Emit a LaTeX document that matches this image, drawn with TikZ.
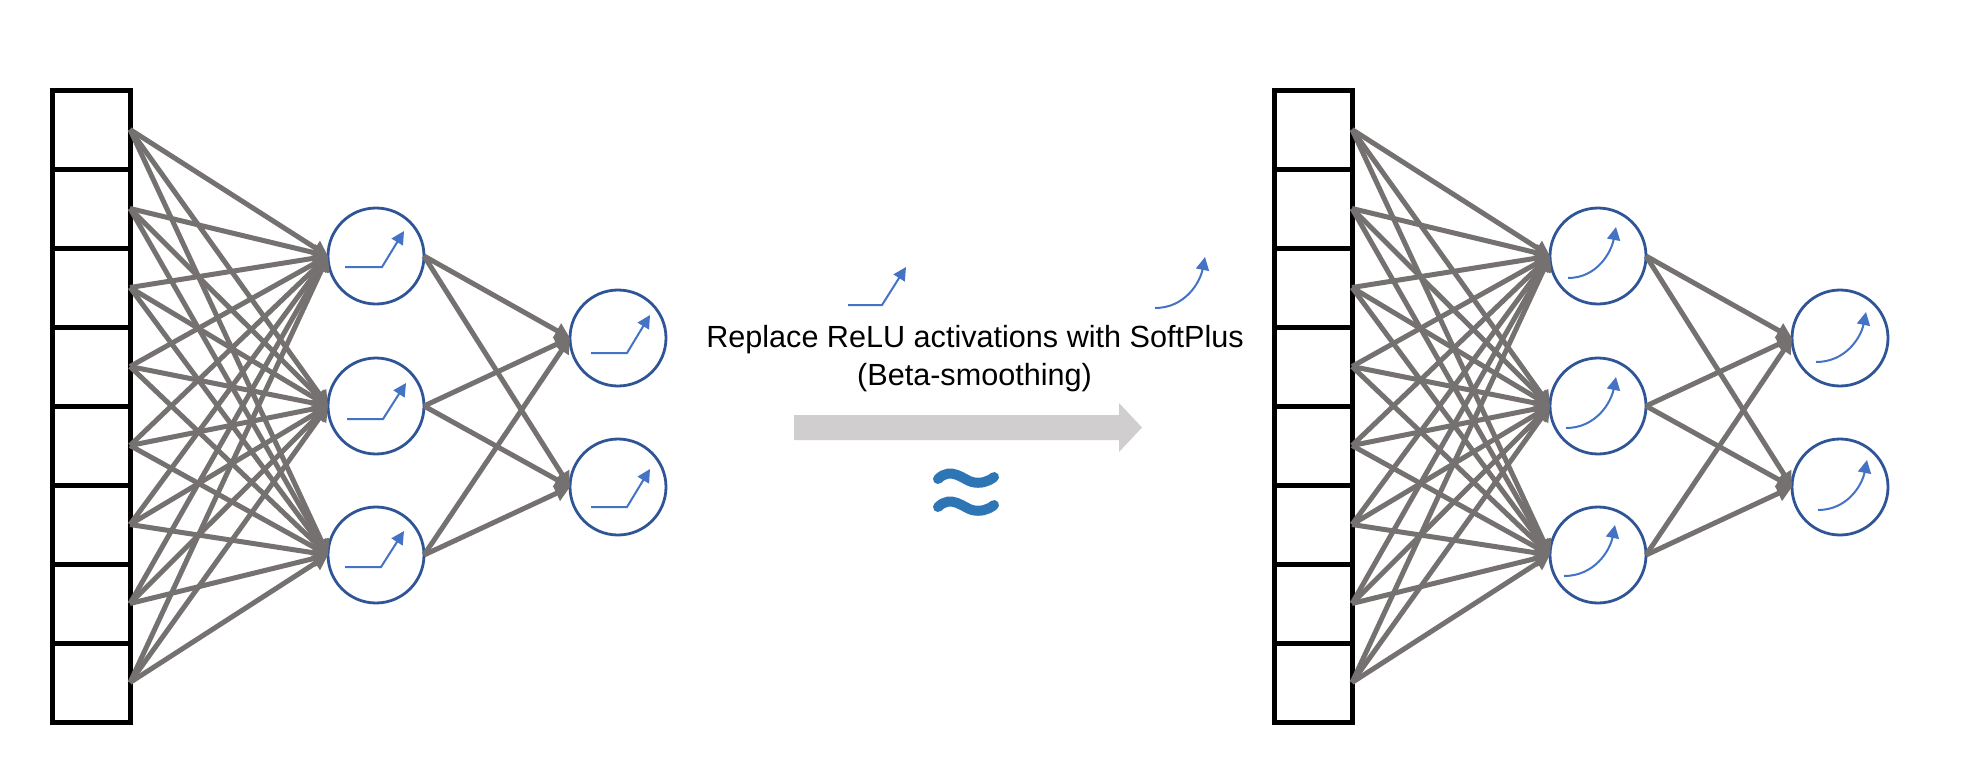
\documentclass[tikz,border=0pt]{standalone}
\usepackage{fontspec}
\setmainfont{Liberation Sans}
\usetikzlibrary{arrows.meta}
\definecolor{edgegray}{HTML}{767171}
\definecolor{ringblue}{HTML}{2F5597}
\definecolor{actblue}{HTML}{4472C4}
\definecolor{bigarrow}{HTML}{D0CECE}
\definecolor{approxblue}{HTML}{2E75B6}
\tikzset{
  x=1pt,y=-1pt,
  cell/.style={draw=black,line width=5pt,minimum width=78pt,minimum height=79pt,inner sep=0pt,outer sep=0pt,fill=white},
  neuron/.style={circle,draw=ringblue,line width=2.8pt,minimum size=96pt,inner sep=0pt,outer sep=0pt,fill=white},
  edge/.style={draw=edgegray,line width=5pt,-{Triangle[length=15pt,width=16pt]}},
  act/.style={draw=actblue,line width=2pt,-{Triangle[length=13pt,width=13pt]}},
  label/.style={font=\fontsize{30.6pt}{36pt}\selectfont,text=black,inner sep=0pt,anchor=base},
  wave/.style={draw=approxblue,line width=10pt,line cap=round},
}
% centre x, centre y, start dx, start dy, knee dx, end dx, end dy
\newcommand{\relushape}[7]{\draw[act] ({#1+(#3)},{#2+(#4)}) -- ({#1+(#5)},{#2+(#4)}) -- ({#1+(#6)},{#2+(#7)});}
% centre x, centre y, start dx, start dy, end dx, end dy
\newcommand{\softshape}[6]{\draw[act] ({#1+(#3)},{#2+(#4)}) .. controls ({#1+(#3)+0.6*((#5)-(#3))},{#2+(#4)}) and ({#1+(#5)-0.1*((#5)-(#3))},{#2+(#6)+0.5*((#4)-(#6))}) .. ({#1+(#5)},{#2+(#6)});}
\newcommand{\network}[2]{%
  \foreach \i in {1,...,8}{
    \node[cell] (#2c\i) at (#1+91,90+79*\i-39.5) {};
  }
  \node[neuron] (#2h1) at (#1+376,256) {};
  \node[neuron] (#2h2) at (#1+376,406) {};
  \node[neuron] (#2h3) at (#1+376,555) {};
  \node[neuron] (#2o1) at (#1+618,338) {};
  \node[neuron] (#2o2) at (#1+618,487) {};
  \foreach \i in {1,...,8}{
    \foreach \j in {1,2,3}{
      \draw[edge] (#2c\i.east) -- (#2h\j.west);
    }
  }
  \foreach \j in {1,2,3}{
    \foreach \k in {1,2}{
      \draw[edge] (#2h\j.east) -- (#2o\k.west);
    }
  }
}
\begin{document}
\begin{tikzpicture}
\useasboundingbox (0,0) rectangle (1978,772);
\fill[white] (0,0) rectangle (1978,772);
\network{0}{a}
\network{1222}{b}
\relushape{376}{256}{-31}{11}{6}{28}{-25}
\relushape{376}{406}{-29}{13}{7}{30}{-23}
\relushape{376}{555}{-31}{12}{5}{28}{-24}
\relushape{618}{338}{-27}{15}{9}{32}{-23}
\relushape{618}{487}{-27}{20}{9}{32}{-18}
\softshape{1598}{256}{-30}{22}{18}{-29}
\softshape{1598}{406}{-32}{22}{18}{-29}
\softshape{1598}{555}{-34}{21}{17}{-30}
\softshape{1840}{338}{-24}{24}{26}{-26}
\softshape{1840}{487}{-22}{23}{27}{-27}
\relushape{848}{305}{0}{0}{34}{58}{-38}
\softshape{1155}{308}{0}{0}{50}{-51}
\node[label] (t1) at (975,347.5) {Replace ReLU activations with SoftPlus};
\node[label] (t2) at (974.5,385.5) {(Beta-smoothing)};
\fill[bigarrow] (794,415) -- (1119,415) -- (1119,403) -- (1142,427.5) -- (1119,452) -- (1119,440) -- (794,440) -- cycle;
\draw[wave] (938,479) .. controls (951,466) and (964,480) .. (972,482) .. controls (980,484) and (988,482) .. (994,477);
\draw[wave] (938,507) .. controls (951,494) and (964,508) .. (972,510) .. controls (980,512) and (988,510) .. (994,505);
\end{tikzpicture}
\end{document}
